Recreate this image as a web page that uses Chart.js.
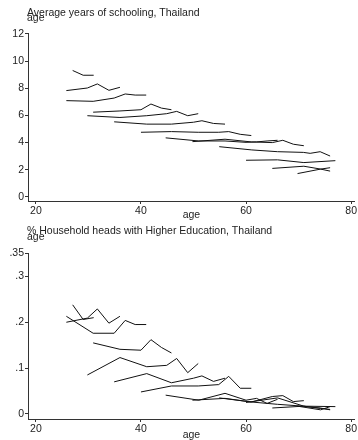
<!DOCTYPE html>
<html>
<head>
<meta charset="utf-8">
<script src="https://cdn.jsdelivr.net/npm/chart.js@4.4.1/dist/chart.umd.min.js"></script>
<style>
  html, body { margin: 0; padding: 0; background: #fff; }
  .panel { position: relative; width: 358px; height: 220px; }
  canvas { display: block; }
</style>
</head>
<body>
<div class="panel"><canvas id="schooling" width="358" height="220"></canvas></div>
<div class="panel"><canvas id="higherEd" width="358" height="220"></canvas></div>
<script>
// Birth cohorts followed across survey rounds: age of each cohort at each round
const cohortAges = [
  [27, 29, 31],
  [25.8, 29.8, 31.7, 33.9, 36],
  [25.8, 30.9, 34.9, 37, 38.9, 41],
  [30.9, 36, 40, 41.9, 43.9, 45.8],
  [29.8, 36, 41.1, 44.9, 46.8, 48.9, 50.9],
  [34.9, 41.1, 45.8, 50, 51.6, 53.8, 56],
  [40, 45.8, 50.9, 54.8, 56.7, 58.9, 61],
  [44.7, 51, 56, 60, 62, 64, 66],
  [49.8, 56, 61, 65, 67, 69, 71],
  [54.9, 61.1, 66, 70.9, 72.2, 74.1, 76],
  [60, 66, 71, 77],
  [65, 71, 74.2, 76],
  [69.8, 74.2, 76]
];

// Average years of schooling per cohort and round
const schoolingYears = [
  [9.31, 8.96, 8.96],
  [7.83, 8.02, 8.32, 7.85, 8.07],
  [7.09, 7.04, 7.28, 7.58, 7.50, 7.50],
  [6.24, 6.33, 6.42, 6.84, 6.54, 6.42],
  [5.98, 5.85, 5.98, 6.13, 6.30, 5.98, 6.13],
  [5.53, 5.36, 5.36, 5.50, 5.61, 5.41, 5.36],
  [4.76, 4.81, 4.76, 4.76, 4.81, 4.61, 4.52],
  [4.35, 4.12, 4.12, 4.02, 4.05, 4.12, 4.17],
  [4.07, 4.25, 4.05, 4.00, 4.17, 3.88, 3.77],
  [3.70, 3.46, 3.33, 3.28, 3.21, 3.33, 3.01],
  [2.70, 2.73, 2.53, 2.67],
  [2.10, 2.26, 2.05, 1.90],
  [1.72, 2.05, 2.15]
];

// Share of household heads with higher education per cohort and round
const higherEdShare = [
  [0.238, 0.206, 0.210],
  [0.200, 0.209, 0.229, 0.198, 0.213],
  [0.213, 0.176, 0.176, 0.204, 0.195, 0.195],
  [0.155, 0.141, 0.139, 0.162, 0.145, 0.133],
  [0.085, 0.123, 0.103, 0.106, 0.121, 0.090, 0.110],
  [0.070, 0.088, 0.068, 0.078, 0.083, 0.071, 0.078],
  [0.048, 0.061, 0.061, 0.064, 0.082, 0.056, 0.056],
  [0.041, 0.030, 0.045, 0.030, 0.034, 0.023, 0.032],
  [0.030, 0.034, 0.026, 0.038, 0.040, 0.027, 0.029],
  [0.035, 0.026, 0.021, 0.017, 0.015, 0.013, 0.009],
  [0.025, 0.035, 0.017, 0.016],
  [0.013, 0.017, 0.012, 0.010],
  [0.017, 0.009, 0.016]
];

const ageTicks = [20, 40, 60, 80];
const schoolingTicks = [0, 2, 4, 6, 8, 10, 12];
const schoolingTickLabels = ['0', '2', '4', '6', '8', '10', '12'];
const shareTicks = [0, 0.1, 0.2, 0.3, 0.35];
const shareTickLabels = ['0', '.1', '.2', '.3', '.35'];

const FONT = '"Liberation Sans", Arial, Helvetica, sans-serif';
const FONT_SIZE = 10.5;
const INK = '#222';
const AXIS = '#333';

// Draws the panel heading and the small "age" note under it
const panelHeading = {
  id: 'panelHeading',
  afterDraw(chart, args, opts) {
    const ctx = chart.ctx;
    ctx.save();
    ctx.fillStyle = INK;
    ctx.font = opts.size + 'px ' + FONT;
    ctx.textAlign = 'left';
    ctx.textBaseline = 'alphabetic';
    ctx.fillText(opts.text, opts.x, opts.titleY);
    ctx.fillText(opts.note, opts.x, opts.noteY);
    ctx.restore();
  }
};

function makePanel(canvasId, values, yMin, yMax, yTicks, yLabels, heading, xHeight) {
  const datasets = cohortAges.map((ages, i) => ({
    data: ages.map((a, j) => ({ x: a, y: values[i][j] })),
    borderColor: '#111',
    borderWidth: 1,
    pointRadius: 0,
    fill: false,
    tension: 0
  }));
  return new Chart(document.getElementById(canvasId), {
    type: 'line',
    data: { datasets },
    plugins: [panelHeading],
    options: {
      responsive: false,
      animation: false,
      events: [],
      layout: { padding: { top: 33, right: 3, left: 0, bottom: 0 } },
      plugins: {
        legend: { display: false },
        tooltip: { enabled: false },
        panelHeading: heading
      },
      scales: {
        x: {
          type: 'linear',
          min: 18.5,
          max: 80.7,
          afterBuildTicks: s => { s.ticks = ageTicks.map(v => ({ value: v })); },
          afterFit: s => { s.height = xHeight; },
          ticks: { font: { family: FONT, size: FONT_SIZE }, color: INK, padding: 1, maxRotation: 0, autoSkip: false },
          grid: { drawOnChartArea: false, drawTicks: true, tickLength: 3, color: AXIS },
          border: { display: true, color: AXIS, width: 1 },
          title: { display: true, text: 'age', font: { family: FONT, size: FONT_SIZE, lineHeight: 1 }, color: INK, padding: { top: 0, bottom: 0 } }
        },
        y: {
          type: 'linear',
          min: yMin,
          max: yMax,
          afterBuildTicks: s => { s.ticks = yTicks.map(v => ({ value: v })); },
          afterFit: s => { s.width = 28; },
          ticks: {
            font: { family: FONT, size: FONT_SIZE },
            color: INK,
            padding: 1,
            autoSkip: false,
            callback: (v) => { const k = yTicks.indexOf(v); return k >= 0 ? yLabels[k] : ''; }
          },
          grid: { drawOnChartArea: false, drawTicks: true, tickLength: 3, color: AXIS },
          border: { display: true, color: AXIS, width: 1 }
        }
      }
    }
  });
}

makePanel('schooling', schoolingYears, -0.3, 12.07, schoolingTicks, schoolingTickLabels,
  { text: 'Average years of schooling, Thailand', note: 'age', x: 27, titleY: 15.5, noteY: 20.5, size: FONT_SIZE }, 19);

makePanel('higherEd', higherEdShare, -0.011, 0.351, shareTicks, shareTickLabels,
  { text: '% Household heads with Higher Education, Thailand', note: 'age', x: 27, titleY: 13.5, noteY: 19.5, size: FONT_SIZE }, 21);
</script>
</body>
</html>
